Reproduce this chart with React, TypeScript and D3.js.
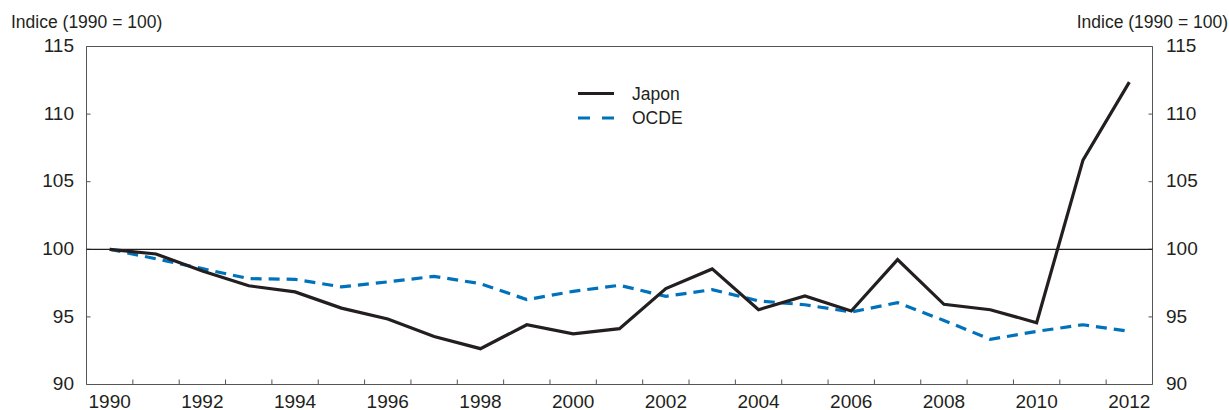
import React from "react";
import * as d3 from "d3";

const years = d3.range(1990, 2013);
const japon = [100, 99.65, 98.4, 97.3, 96.85, 95.65, 94.85, 93.55, 92.65, 94.42, 93.75, 94.13, 97.09, 98.55, 95.53, 96.55, 95.44, 99.24, 95.93, 95.53, 94.57, 106.6, 112.36];
const ocde = [100, 99.3, 98.57, 97.83, 97.78, 97.22, 97.59, 98.0, 97.46, 96.28, 96.89, 97.34, 96.52, 97.02, 96.18, 95.9, 95.36, 96.05, 94.74, 93.34, 93.93, 94.42, 93.93];
const yTicks = [90, 95, 100, 105, 110, 115];
const xLabels = [1990, 1992, 1994, 1996, 1998, 2000, 2002, 2004, 2006, 2008, 2010, 2012];
const seriesNames = ["Japon", "OCDE"];
const yTitle = "Indice (1990 = 100)";

const W = 1229, H = 410;
const L = 86.5, R = 1152.5, T = 46.5, B = 384.5;
const FONT = "'Liberation Sans', Arial, Helvetica, sans-serif";
const AXIS = "#555";
const BLACK = "#231f20";
const BLUE = "#0072bc";

export default function App() {
  const x = d3.scaleBand<number>().domain(years).range([L, R]).padding(0);
  const y = d3.scaleLinear().domain([90, 115]).range([B, T]);
  const cx = (yr: number) => (x(yr) as number) + x.bandwidth() / 2;
  const line = d3.line<number>().x((_, i) => cx(years[i])).y((v) => y(v));
  const boundaries = years.slice(1).map((yr) => x(yr) as number);

  return (
    <svg width={W} height={H} style={{ position: "absolute", left: 0, top: 0, display: "block" }} fontFamily={FONT}>
      <rect x={0} y={0} width={W} height={H} fill="#fff" />
      {/* titles */}
      <text x={11} y={27.5} fontSize={17.5} fill="#231f20">{yTitle}</text>
      <text x={1228} y={27.5} fontSize={17.5} fill="#231f20" textAnchor="end">{yTitle}</text>

      {/* frame */}
      <line x1={L} x2={R} y1={T} y2={T} stroke={AXIS} strokeWidth={1} />
      <line x1={L} x2={R} y1={B} y2={B} stroke={AXIS} strokeWidth={1} />
      <line x1={L} x2={L} y1={T} y2={B} stroke={AXIS} strokeWidth={1} />
      <line x1={R} x2={R} y1={T} y2={B} stroke={AXIS} strokeWidth={1} />

      {/* y ticks */}
      {yTicks.map((t) => (
        <g key={t}>
          <line x1={L} x2={L + 4} y1={y(t)} y2={y(t)} stroke={AXIS} />
          <line x1={R - 4} x2={R} y1={y(t)} y2={y(t)} stroke={AXIS} />
          <text x={74} y={y(t)} dy="0.3em" fontSize={19} textAnchor="end" fill="#231f20">{t}</text>
          <text x={1166} y={y(t)} dy="0.3em" fontSize={19} textAnchor="start" fill="#231f20">{t}</text>
        </g>
      ))}

      {/* x ticks */}
      {boundaries.map((bx, i) => (
        <line key={i} x1={bx} x2={bx} y1={B} y2={B - 5} stroke={AXIS} />
      ))}
      {xLabels.map((yr) => (
        <text key={yr} x={cx(yr)} y={407.5} fontSize={19} textAnchor="middle" fill="#231f20">{yr}</text>
      ))}

      {/* 100 reference line */}
      <line x1={L} x2={R} y1={y(100)} y2={y(100)} stroke={BLACK} strokeWidth={1.2} />

      {/* series */}
      <path d={line(ocde) || ""} fill="none" stroke={BLUE} strokeWidth={3.2} strokeDasharray="11,7" />
      <path d={line(japon) || ""} fill="none" stroke={BLACK} strokeWidth={3.2} strokeLinejoin="miter" />

      {/* legend */}
      <line x1={578} x2={614} y1={93.5} y2={93.5} stroke={BLACK} strokeWidth={3.2} />
      <text x={632} y={93.5} dy="0.35em" fontSize={17.5} fill="#231f20">{seriesNames[0]}</text>
      <line x1={578} x2={614} y1={118} y2={118} stroke={BLUE} strokeWidth={3.2} strokeDasharray="12,12" />
      <text x={632} y={118} dy="0.35em" fontSize={17.5} fill="#231f20">{seriesNames[1]}</text>
    </svg>
  );
}
